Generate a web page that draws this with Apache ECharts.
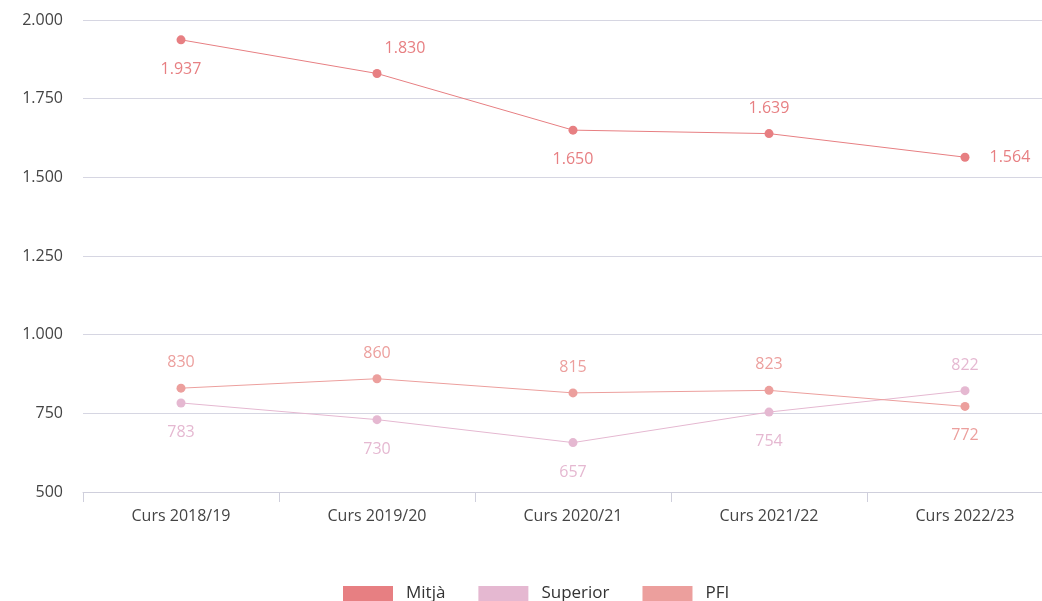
<!DOCTYPE html>
<html>
<head>
<meta charset="utf-8">
<script src="https://cdn.jsdelivr.net/npm/echarts@6/dist/echarts.min.js"></script>
<style>
  html, body { margin: 0; padding: 0; background: #fff; }
  #chart { width: 1042px; height: 601px; }
</style>
</head>
<body>
<div id="chart"></div>
<script>
const cursos = ['Curs 2018/19', 'Curs 2019/20', 'Curs 2020/21', 'Curs 2021/22', 'Curs 2022/23'];
const mitja = [1937, 1830, 1650, 1639, 1564];
const superior = [783, 730, 657, 754, 822];
const pfi = [830, 860, 815, 823, 772];

// label placement per point
const mitjaPos = ['bottom', 'top', 'bottom', 'top', 'right'];
const superiorPos = ['bottom', 'bottom', 'bottom', 'bottom', 'top'];
const pfiPos = ['top', 'top', 'top', 'top', 'bottom'];

const fmt = v => String(v).replace(/\B(?=(\d{3})+(?!\d))/g, '.');
const font = '"Open Sans", sans-serif';

function punts(values, positions) {
    return values.map((v, i) => {
        const p = positions[i];
        const label = { position: p, distance: p === 'bottom' ? 17 : 13 };
        if (p === 'right') label.distance = 20;
        if (i === 1 && values === mitja) label.offset = [28, 0];
        return { value: v, label: label };
    });
}

function serie(name, values, positions, color) {
    return {
        name: name,
        type: 'line',
        data: punts(values, positions),
        symbol: 'circle',
        symbolSize: 9,
        lineStyle: { width: 1, color: color },
        itemStyle: { color: color },
        label: {
            show: true,
            color: color,
            fontSize: 16,
            fontFamily: font,
            formatter: p => fmt(p.value)
        }
    };
}

const chart = echarts.init(document.getElementById('chart'));
chart.setOption({
    animation: false,
    grid: { left: 83, width: 980, top: 20, bottom: 109, outerBoundsMode: 'none' },
    legend: {
        top: 580,
        left: 338,
        icon: 'rect',
        itemWidth: 50,
        itemHeight: 15,
        itemGap: 33,
        textStyle: { fontSize: 17, color: '#333', fontFamily: font, padding: [0, 0, 0, 8] },
        data: ['Mitjà', 'Superior', 'PFI']
    },
    xAxis: {
        type: 'category',
        data: cursos,
        axisLine: { lineStyle: { color: '#cfcfdc' } },
        axisTick: { show: true, length: 10, lineStyle: { color: '#cfcfdc' } },
        axisLabel: { color: '#444', fontSize: 16, fontFamily: font, margin: 16 }
    },
    yAxis: {
        type: 'value',
        min: 500,
        max: 2000,
        interval: 250,
        axisLine: { show: false },
        axisTick: { show: false },
        splitLine: { lineStyle: { color: '#d6d6e2' } },
        axisLabel: { color: '#444', fontSize: 16, fontFamily: font, margin: 20, formatter: fmt }
    },
    series: [
        serie('Mitjà', mitja, mitjaPos, '#e77f82'),
        serie('Superior', superior, superiorPos, '#e5b8d1'),
        serie('PFI', pfi, pfiPos, '#ec9f9d')
    ]
});
</script>
</body>
</html>
